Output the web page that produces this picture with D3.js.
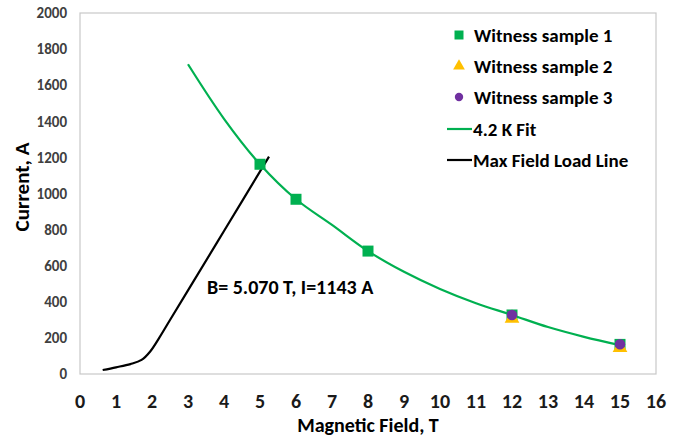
<!DOCTYPE html>
<html>
<head>
    <meta charset="utf-8">
    <style>
        html, body { padding: 0; margin: 0; background: #fff; }
        svg text { font-family: Carlito, "Open Sans", sans-serif; }
    </style>
</head>
<body>
    <div id="chart"></div>
    <script src="https://cdn.jsdelivr.net/npm/d3@7"></script>
    <script>
        // values
        const xTicks = d3.range(0, 17);
        const yTicks = d3.range(0, 2001, 200);

        const sample1 = [[5, 1162], [6, 968], [8, 681], [12, 327], [15, 164]];
        const sample2 = [[12, 307], [15, 146]];
        const sample3 = [[12, 327], [15, 165]];

        const fitB = [3, 4, 5, 6, 7, 8, 9, 10, 11, 12, 13, 14, 15];
        const fitI = [1716, 1414, 1162, 968, 826, 681, 566, 471, 392, 327, 260, 206, 160];

        const loadB = [0.63, 1.0, 1.4, 1.71, 1.95, 2.2, 2.5, 3.0, 4.0, 5.25];
        const loadI = [22, 37, 55, 78, 125, 200, 299, 463, 792, 1204];

        const legendLabels = ['Witness sample 1', 'Witness sample 2', 'Witness sample 3', '4.2 K Fit', 'Max Field Load Line'];

        const width = 681, height = 439;
        const green = '#00B050', yellow = '#FFC000', purple = '#7030A0';

        const svg = d3.select('#chart').append('svg')
            .attr('width', width)
            .attr('height', height);

        const x = d3.scaleLinear().domain([0, 16]).range([80, 656]);
        const y = d3.scaleLinear().domain([0, 2000]).range([374, 13]);

        // plot frame
        svg.append('rect')
            .attr('x', x(0)).attr('y', y(2000))
            .attr('width', x(16) - x(0)).attr('height', y(0) - y(2000))
            .attr('fill', 'none').attr('stroke', '#c8c8c8').attr('stroke-width', 1.2);

        // tick labels
        svg.append('g').selectAll('text')
            .data(yTicks).join('text')
            .attr('x', 67).attr('y', d => y(d))
            .attr('dy', '0.35em')
            .attr('text-anchor', 'end')
            .style('font-size', '15px').style('font-weight', 'bold')
            .attr('fill', '#404040')
            .text(d => d);

        svg.append('g').selectAll('text')
            .data(xTicks).join('text')
            .attr('x', d => x(d)).attr('y', 401)
            .attr('dy', '0.35em')
            .attr('text-anchor', 'middle')
            .style('font-size', '20px').style('font-weight', 'bold')
            .attr('fill', '#1a1a1a')
            .text(d => d);

        // axis titles
        svg.append('text')
            .attr('x', 368).attr('y', 425).attr('dy', '0.35em')
            .attr('text-anchor', 'middle')
            .style('font-size', '20px').style('font-weight', 'bold')
            .text('Magnetic Field, T');

        svg.append('text')
            .attr('transform', 'translate(22,187) rotate(-90)')
            .attr('dy', '0.35em')
            .attr('text-anchor', 'middle')
            .style('font-size', '21px').style('font-weight', 'bold')
            .text('Current, A');

        // lines
        const line = d3.line()
            .x(d => x(d[0])).y(d => y(d[1]))
            .curve(d3.curveCatmullRom.alpha(0.5));

        svg.append('path')
            .datum(loadB.map((b, i) => [b, loadI[i]]))
            .attr('d', line)
            .attr('fill', 'none').attr('stroke', '#000').attr('stroke-width', 2.2);

        svg.append('path')
            .datum(fitB.map((b, i) => [b, fitI[i]]))
            .attr('d', line)
            .attr('fill', 'none').attr('stroke', green).attr('stroke-width', 2.2);

        // markers
        const sq = d3.symbol().type(d3.symbolSquare).size(121);
        const tri = d3.symbol().type(d3.symbolTriangle).size(95);
        const circ = d3.symbol().type(d3.symbolCircle).size(85);

        svg.append('g').selectAll('path')
            .data(sample1).join('path')
            .attr('transform', d => `translate(${x(d[0])},${y(d[1])})`)
            .attr('d', sq).attr('fill', green);

        svg.append('g').selectAll('path')
            .data(sample2).join('path')
            .attr('transform', d => `translate(${x(d[0])},${y(d[1])})`)
            .attr('d', tri).attr('fill', yellow);

        svg.append('g').selectAll('path')
            .data(sample3).join('path')
            .attr('transform', d => `translate(${x(d[0])},${y(d[1])})`)
            .attr('d', circ).attr('fill', purple);

        // annotation
        svg.append('text')
            .attr('x', 207).attr('y', 287).attr('dy', '0.35em')
            .style('font-size', '20px').style('font-weight', 'bold')
            .text('B= 5.070 T, I=1143 A');

        // legend
        const legY = [35, 66, 97, 129, 160];
        const leg = svg.append('g');
        leg.append('path').attr('transform', `translate(459,${legY[0]})`)
            .attr('d', d3.symbol().type(d3.symbolSquare).size(81)).attr('fill', green);
        leg.append('path').attr('transform', `translate(459,${legY[1]})`)
            .attr('d', d3.symbol().type(d3.symbolTriangle).size(60)).attr('fill', yellow);
        leg.append('path').attr('transform', `translate(459,${legY[2]})`)
            .attr('d', d3.symbol().type(d3.symbolCircle).size(55)).attr('fill', purple);
        leg.append('line').attr('x1', 447).attr('x2', 472).attr('y1', legY[3]).attr('y2', legY[3])
            .attr('stroke', green).attr('stroke-width', 2.2);
        leg.append('line').attr('x1', 447).attr('x2', 472).attr('y1', legY[4]).attr('y2', legY[4])
            .attr('stroke', '#000').attr('stroke-width', 2.2);
        leg.selectAll('text')
            .data(legendLabels).join('text')
            .attr('x', (d, i) => i < 3 ? 474 : 473)
            .attr('y', (d, i) => legY[i]).attr('dy', '0.35em')
            .style('font-size', '19px').style('font-weight', 'bold')
            .text(d => d);
    </script>
</body>
</html>
